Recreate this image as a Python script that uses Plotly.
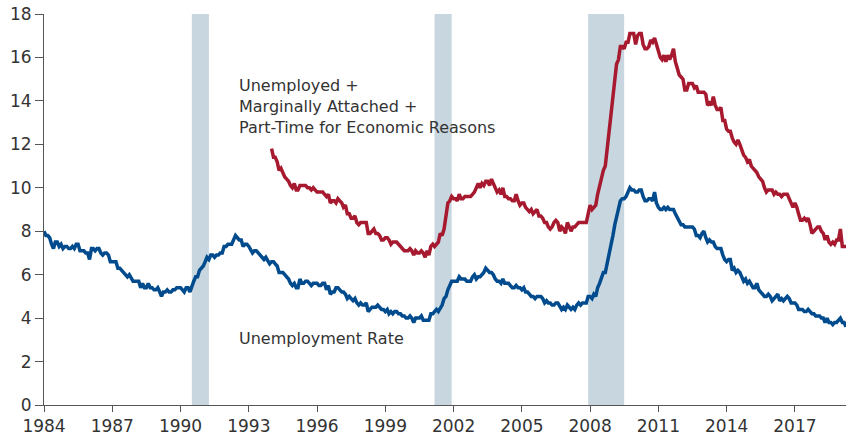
"""
Unemployment rate vs U-6 with recession shading
"""
import plotly.graph_objects as go
import pandas as pd

# monthly unemployment rate (%), Jan 1984 - Apr 2019
unrate = [
    8.0, 7.8, 7.8, 7.7, 7.4, 7.2, 7.5, 7.5, 7.3, 7.4, 7.2, 7.3,
    7.3, 7.2, 7.2, 7.3, 7.2, 7.4, 7.4, 7.1, 7.1, 7.1, 7.0, 7.0,
    6.7, 7.2, 7.2, 7.1, 7.2, 7.2, 7.0, 6.9, 7.0, 7.0, 6.9, 6.6,
    6.6, 6.6, 6.6, 6.3, 6.3, 6.2, 6.1, 6.0, 5.9, 6.0, 5.8, 5.7,
    5.7, 5.7, 5.7, 5.4, 5.6, 5.4, 5.4, 5.6, 5.4, 5.4, 5.3, 5.3,
    5.4, 5.2, 5.0, 5.2, 5.2, 5.3, 5.2, 5.2, 5.3, 5.3, 5.4, 5.4,
    5.4, 5.3, 5.2, 5.4, 5.4, 5.2, 5.5, 5.7, 5.9, 5.9, 6.2, 6.3,
    6.4, 6.6, 6.8, 6.7, 6.9, 6.9, 6.8, 6.9, 6.9, 7.0, 7.0, 7.3,
    7.3, 7.4, 7.4, 7.4, 7.6, 7.8, 7.7, 7.6, 7.6, 7.3, 7.4, 7.4,
    7.3, 7.1, 7.0, 7.1, 7.1, 7.0, 6.9, 6.8, 6.7, 6.8, 6.6, 6.5,
    6.6, 6.6, 6.5, 6.4, 6.1, 6.1, 6.1, 6.0, 5.9, 5.8, 5.6, 5.5,
    5.6, 5.4, 5.4, 5.8, 5.6, 5.6, 5.7, 5.7, 5.6, 5.5, 5.6, 5.6,
    5.6, 5.5, 5.5, 5.6, 5.6, 5.3, 5.5, 5.1, 5.2, 5.2, 5.4, 5.4,
    5.3, 5.2, 5.2, 5.1, 4.9, 5.0, 4.9, 4.8, 4.9, 4.7, 4.6, 4.7,
    4.6, 4.6, 4.7, 4.3, 4.4, 4.5, 4.5, 4.5, 4.6, 4.5, 4.4, 4.4,
    4.3, 4.4, 4.2, 4.3, 4.2, 4.3, 4.3, 4.2, 4.2, 4.1, 4.1, 4.0,
    4.0, 4.1, 4.0, 3.8, 4.0, 4.0, 4.0, 4.1, 3.9, 3.9, 3.9, 3.9,
    4.2, 4.2, 4.3, 4.4, 4.3, 4.5, 4.6, 4.9, 5.0, 5.3, 5.5, 5.7,
    5.7, 5.7, 5.7, 5.9, 5.8, 5.8, 5.8, 5.7, 5.7, 5.7, 5.9, 6.0,
    5.8, 5.9, 5.9, 6.0, 6.1, 6.3, 6.2, 6.1, 6.1, 6.0, 5.8, 5.7,
    5.7, 5.6, 5.8, 5.6, 5.6, 5.6, 5.5, 5.4, 5.4, 5.5, 5.4, 5.4,
    5.3, 5.4, 5.2, 5.2, 5.1, 5.0, 5.0, 4.9, 5.0, 5.0, 5.0, 4.9,
    4.7, 4.8, 4.7, 4.7, 4.6, 4.6, 4.7, 4.7, 4.5, 4.4, 4.5, 4.4,
    4.6, 4.5, 4.4, 4.5, 4.4, 4.6, 4.7, 4.6, 4.7, 4.7, 4.7, 5.0,
    5.0, 4.9, 5.1, 5.0, 5.4, 5.6, 5.8, 6.1, 6.1, 6.5, 6.8, 7.3,
    7.8, 8.3, 8.7, 9.0, 9.4, 9.5, 9.5, 9.6, 9.8, 10.0, 9.9, 9.9,
    9.8, 9.8, 9.9, 9.9, 9.6, 9.4, 9.4, 9.5, 9.5, 9.4, 9.8, 9.3,
    9.1, 9.0, 9.0, 9.1, 9.0, 9.1, 9.0, 9.0, 9.0, 8.8, 8.6, 8.5,
    8.3, 8.3, 8.2, 8.2, 8.2, 8.2, 8.2, 8.1, 7.8, 7.8, 7.7, 7.9,
    8.0, 7.7, 7.5, 7.6, 7.5, 7.5, 7.3, 7.2, 7.2, 7.2, 6.9, 6.7,
    6.6, 6.7, 6.7, 6.2, 6.3, 6.1, 6.2, 6.1, 5.9, 5.7, 5.8, 5.6,
    5.7, 5.5, 5.4, 5.4, 5.6, 5.3, 5.2, 5.1, 5.0, 5.0, 5.1, 5.0,
    4.8, 4.9, 5.0, 5.1, 4.8, 4.9, 4.8, 4.9, 5.0, 4.9, 4.7, 4.7,
    4.7, 4.6, 4.4, 4.4, 4.4, 4.3, 4.3, 4.4, 4.3, 4.2, 4.2, 4.1,
    4.1, 4.1, 4.0, 4.0, 3.8, 4.0, 3.8, 3.8, 3.7, 3.8, 3.8, 3.9,
    4.0, 3.8, 3.8, 3.6,
]

# U-6 (%), Jan 1994 - Apr 2019
u6 = [
    11.8, 11.4, 11.4, 11.2, 10.8, 10.9, 10.7, 10.5, 10.4, 10.3, 10.1, 10.0,
    10.2, 9.9, 9.9, 10.1, 10.1, 10.1, 10.1, 10.0, 10.0, 9.9, 10.0, 9.9,
    9.8, 9.8, 9.8, 9.8, 9.7, 9.6, 9.7, 9.3, 9.4, 9.4, 9.3, 9.5,
    9.4, 9.3, 9.1, 9.2, 8.8, 8.8, 8.6, 8.6, 8.7, 8.4, 8.3, 8.4,
    8.4, 8.4, 8.4, 7.9, 7.9, 8.0, 8.1, 7.9, 7.9, 7.8, 7.6, 7.6,
    7.7, 7.7, 7.6, 7.4, 7.5, 7.5, 7.5, 7.4, 7.3, 7.2, 7.1, 7.1,
    7.1, 7.2, 7.1, 6.9, 7.1, 7.0, 7.0, 7.1, 7.0, 6.8, 7.1, 6.9,
    7.3, 7.4, 7.3, 7.4, 7.5, 7.9, 7.8, 8.1, 8.7, 9.3, 9.4, 9.6,
    9.5, 9.5, 9.4, 9.7, 9.5, 9.5, 9.6, 9.6, 9.6, 9.6, 9.7, 9.8,
    10.0, 10.2, 10.0, 10.2, 10.1, 10.3, 10.3, 10.1, 10.4, 10.2, 10.0, 9.8,
    9.9, 9.7, 10.0, 9.6, 9.6, 9.5, 9.5, 9.4, 9.4, 9.7, 9.4, 9.2,
    9.3, 9.3, 9.1, 9.0, 8.9, 9.0, 8.8, 8.9, 9.0, 8.7, 8.7, 8.6,
    8.4, 8.4, 8.2, 8.1, 8.2, 8.4, 8.5, 8.4, 8.0, 8.2, 8.1, 7.9,
    8.4, 8.2, 8.0, 8.2, 8.2, 8.3, 8.4, 8.4, 8.4, 8.4, 8.4, 8.8,
    9.2, 9.0, 9.1, 9.2, 9.7, 10.1, 10.5, 10.8, 11.0, 11.8, 12.6, 13.6,
    14.2, 15.2, 15.7, 15.9, 16.5, 16.5, 16.4, 16.7, 16.7, 17.1, 17.1, 17.1,
    16.6, 17.0, 17.1, 17.1, 16.6, 16.4, 16.4, 16.5, 16.8, 16.7, 16.9, 16.6,
    16.2, 16.0, 15.9, 16.1, 15.8, 16.1, 15.9, 16.1, 16.4, 15.8, 15.5, 15.2,
    15.1, 15.0, 14.5, 14.5, 14.8, 14.8, 14.8, 14.6, 14.7, 14.4, 14.4, 14.4,
    14.4, 14.3, 13.8, 13.9, 13.8, 14.2, 13.8, 13.6, 13.6, 13.7, 13.1, 13.1,
    12.7, 12.6, 12.6, 12.3, 12.1, 12.0, 12.2, 12.0, 11.7, 11.5, 11.4, 11.2,
    11.3, 11.0, 10.9, 10.8, 10.7, 10.5, 10.4, 10.3, 10.0, 9.8, 9.9, 9.9,
    9.9, 9.7, 9.8, 9.7, 9.7, 9.6, 9.7, 9.7, 9.7, 9.5, 9.3, 9.1,
    9.3, 9.1, 8.8, 8.5, 8.5, 8.6, 8.5, 8.6, 8.3, 7.9, 8.0, 8.1,
    8.2, 8.2, 8.0, 7.9, 7.6, 7.8, 7.5, 7.4, 7.5, 7.4, 7.6, 7.6,
    8.1, 7.3, 7.3, 7.3,
]

# recession shading, start of first month to start of month after the trough
recessions = [("1990-07-01", "1991-04-01"), ("2001-03-01", "2001-12-01"), ("2007-12-01", "2009-07-01")]

dates_ur = pd.date_range("1984-01-01", periods=len(unrate), freq="MS")
dates_u6 = pd.date_range("1994-01-01", periods=len(u6), freq="MS")

BLUE = "#004b8d"
RED = "#a6192e"
FONT = "DejaVu Sans, Verdana, sans-serif"

fig = go.Figure()
fig.add_trace(go.Scatter(x=dates_ur, y=unrate, mode="lines",
                         line=dict(color=BLUE, width=3.5), name="Unemployment Rate"))
fig.add_trace(go.Scatter(x=dates_u6, y=u6, mode="lines",
                         line=dict(color=RED, width=3.5), name="U-6"))

for start, end in recessions:
    fig.add_vrect(x0=start, x1=end, fillcolor="#c8d6e0", opacity=1, line_width=0, layer="below")

fig.add_annotation(x="1992-07-01", y=13.72, xref="x", yref="y", xanchor="left", yanchor="middle",
                   text="Unemployed +<br>Marginally Attached +<br>Part-Time for Economic Reasons",
                   showarrow=False, align="left", font=dict(size=16, color="#333333", family=FONT))
fig.add_annotation(x="1992-07-01", y=3.08, xref="x", yref="y", xanchor="left", yanchor="middle",
                   text="Unemployment Rate", showarrow=False,
                   font=dict(size=16, color="#333333", family=FONT))

fig.update_layout(
    width=846, height=441,
    margin=dict(l=44, r=0, t=14, b=36, autoexpand=False),
    paper_bgcolor="white", plot_bgcolor="white",
    showlegend=False,
    font=dict(family=FONT, size=17, color="#333333"),
)
fig.update_xaxes(
    type="date", range=["1984-01-01", "2019-04-01"],
    tick0="1984-01-01", dtick="M36", tickformat="%Y",
    showgrid=False, zeroline=False, automargin=False, ticklabeloverflow="allow",
    showline=True, linecolor="#555555", linewidth=1,
    ticks="outside", ticklen=6, tickcolor="#555555",
)
fig.update_yaxes(
    range=[0, 18], dtick=2,
    showgrid=False, zeroline=False, automargin=False, ticklabeloverflow="allow",
    showline=True, linecolor="#555555", linewidth=1,
    ticks="outside", ticklen=8, tickcolor="#555555",
)

# drop the default 8px page margin so the figure fills the window
fig.write_html("out.html", config={"displayModeBar": False},
               post_script="document.body.style.margin='0';"
                           "document.documentElement.style.overflow='hidden';")
